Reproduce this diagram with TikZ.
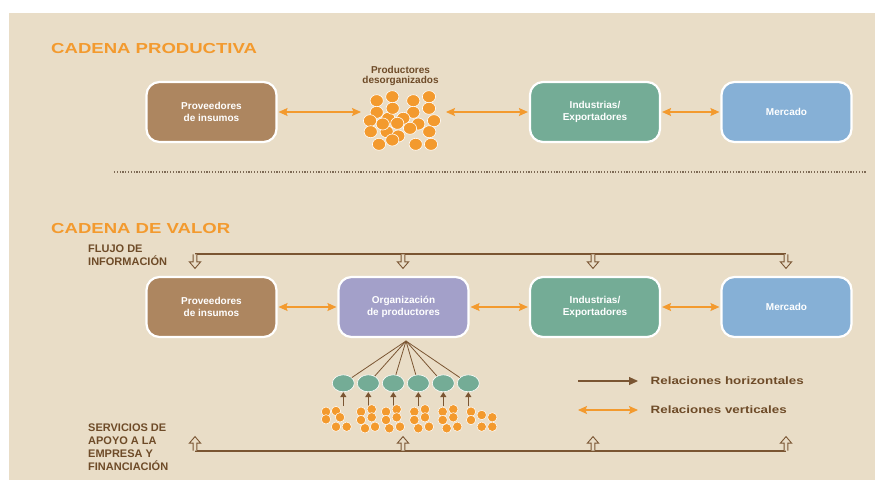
\documentclass[tikz,border=0pt]{standalone}
\usepackage{fontspec}
\setmainfont{Liberation Sans}
\usetikzlibrary{arrows.meta,shapes.geometric}
\definecolor{bg}{HTML}{E9DDC7}
\definecolor{orng}{HTML}{F39A2E}
\definecolor{brbox}{HTML}{AD8660}
\definecolor{grbox}{HTML}{74AC96}
\definecolor{blbox}{HTML}{86B0D6}
\definecolor{pubox}{HTML}{A3A0C9}
\definecolor{brline}{HTML}{7A5532}
\definecolor{brtext}{HTML}{6E4B28}
\definecolor{dotline}{HTML}{7E6A55}
\begin{document}
\begin{tikzpicture}[x=1pt,y=-1pt,
  box/.style={draw=white,line width=2.2pt,rounded corners=13pt,minimum width=130pt,minimum height=60pt,inner sep=0pt,align=center,text=white,font=\fontsize{10}{12.5}\selectfont\bfseries},
  title/.style={anchor=base west,text=orng,inner sep=0pt,font=\fontsize{14.5}{14.5}\selectfont\bfseries},
  side/.style={anchor=base west,align=left,inner sep=0pt,text=brtext,font=\fontsize{11}{13}\selectfont\bfseries},
  legtext/.style={anchor=west,inner sep=0pt,text=brtext,font=\fontsize{10.7}{12}\selectfont\bfseries},
  oarrow/.style={draw=orng,line width=1.1pt,{Stealth[length=9pt,width=8pt,inset=1.5pt]}-{Stealth[length=9pt,width=8pt,inset=1.5pt]},shorten <=1pt,shorten >=1pt},
  flow/.style={draw=brline,line width=1.3pt},
  fan/.style={draw=brline,line width=0.8pt},
  uparr/.style={draw=brline,line width=1.3pt,-{Triangle[length=5pt,width=6pt]}},
  bigdot/.style={fill=orng,draw=white,line width=0.6pt},
  smalldot/.style={fill=orng,draw=white,line width=0.5pt},
  prod/.style={ellipse,fill=grbox,draw=white,line width=0.6pt,minimum width=22pt,minimum height=17pt,inner sep=0pt},
  hollowarr/.pic={
    \filldraw[fill=bg,draw=brline,line width=0.9pt,line join=miter]
      (-1.9,0) -- (-1.9,7.5) -- (-5.6,7.5) -- (0,14) -- (5.6,7.5) -- (1.9,7.5) -- (1.9,0);
  }
]
\fill[white] (0,0) rectangle (875,480);
\fill[bg] (9,13) rectangle (875,480);
\useasboundingbox (0,0) rectangle (875,480);

% ---------- CADENA PRODUCTIVA ----------
\node[title] (t1) at (51,53.3) {\scalebox{1.28}[1]{CADENA PRODUCTIVA}};

\node[box,fill=brbox] (p1) at (211.5,112) {Proveedores\\de insumos};
\node[box,fill=grbox] (i1) at (595,112) {Industrias/\\Exportadores};
\node[box,fill=blbox] (m1) at (786.5,112) {Mercado};

\node[anchor=base,inner sep=0pt,align=center,text=brtext,font=\fontsize{10}{9.5}\selectfont\bfseries] (lbl) at (400.5,83) {Productores\\desorganizados};

% disorganized producers cluster
\foreach \x/\y in {388.3/118.3, 386.7/131.7, 398.3/136, 418.3/124,
  376.7/100.7, 392.3/96.7, 413.3/100.7, 429/96.7,
  376.7/112.3, 392.7/108.3, 413.3/112.3, 429/108.3,
  370/120.7, 403.3/118.3, 434/120.7,
  382.7/124, 397.3/123.3, 410/128.3,
  370.7/131.7, 429.3/131.7,
  379/144.3, 392.3/140, 415.7/144.3, 431/144.3}
  \draw[bigdot] (\x,\y) ellipse [x radius=6.6pt, y radius=6pt];

\coordinate (cw) at (362,112);
\coordinate (ce) at (445,112);
\draw[oarrow] (p1) -- (cw);
\draw[oarrow] (ce) -- (i1);
\draw[oarrow] (i1) -- (m1);

% separator
\draw[dotline,line width=1.3pt,dash pattern=on 1.2pt off 1.6pt] (114,172) -- (867,172);

% ---------- CADENA DE VALOR ----------
\node[title] (t2) at (51,233.3) {\scalebox{1.28}[1]{CADENA DE VALOR}};
\node[side] (flujo) at (88,265.5) {FLUJO DE\\INFORMACIÓN};

\node[box,fill=brbox] (p2) at (211.5,307) {Proveedores\\de insumos};
\node[box,fill=pubox] (o2) at (403.5,307) {Organización\\de productores};
\node[box,fill=grbox] (i2) at (595,307) {Industrias/\\Exportadores};
\node[box,fill=blbox] (m2) at (786.5,307) {Mercado};

\draw[oarrow] (p2) -- (o2);
\draw[oarrow] (o2) -- (i2);
\draw[oarrow] (i2) -- (m2);

% information flow
\coordinate (fa) at (195,254);
\coordinate (fb) at (786,254);
\draw[flow] (fa) -- (fb);
\foreach \x in {195,403,593,786}
  \pic at (\x,254.4) {hollowarr};

% organised producers
\coordinate (apex) at (406,341);
\foreach \i/\x in {1/343.3,2/368.3,3/393.3,4/418.3,5/443.3,6/468.3}{
  \node[prod] (e\i) at (\x,383.3) {};
  \draw[fan] (apex) -- (e\i);
  \coordinate (u\i) at (\x,406);
  \draw[uparr] (u\i) -- (e\i);
}

% small producers
\foreach \x/\y in {326/411.7, 336/411, 326/419.3, 340/417.3, 336/426.7, 346.7/426.7,
  361/411.7, 371.7/409.3, 361/420, 371.7/417.3, 365/428.3, 375/426.7,
  386/411.7, 396.7/409.3, 386/420, 396.7/417.3, 389.3/428.3, 400/426.7,
  414.3/411.7, 425/409.3, 414.3/420, 425/417.3, 418.3/428.3, 429/426.7,
  442.7/411.7, 453.3/409.3, 442.7/420, 453.3/417.3, 446.7/428.3, 457.3/426.7,
  471/411.7, 481.7/415, 471/420, 492.3/417.3, 481.7/426.7, 492.3/426.7}
  \draw[smalldot] (\x,\y) circle [radius=4.7pt];

% legend
\coordinate (lh1) at (578,381);
\coordinate (lh2) at (638,381);
\draw[draw=brline,line width=1.2pt,-{Triangle[length=9pt,width=8pt]}] (lh1) -- (lh2);
\node[legtext] (lt1) at (650.5,381) {\scalebox{1.25}[1]{Relaciones horizontales}};
\coordinate (lv1) at (578,410);
\coordinate (lv2) at (638,410);
\draw[oarrow,shorten <=0pt,shorten >=0pt] (lv1) -- (lv2);
\node[legtext] (lt2) at (650.5,410) {\scalebox{1.25}[1]{Relaciones verticales}};

% support services
\node[side] (serv) at (88,470) {SERVICIOS DE\\APOYO A LA\\EMPRESA Y\\FINANCIACIÓN};
\coordinate (sa) at (195,451);
\coordinate (sb) at (786,451);
\draw[flow] (sa) -- (sb);
\foreach \x in {195,403,593,786}
  \pic[yscale=-1] at (\x,450.6) {hollowarr};
\end{tikzpicture}
\end{document}
